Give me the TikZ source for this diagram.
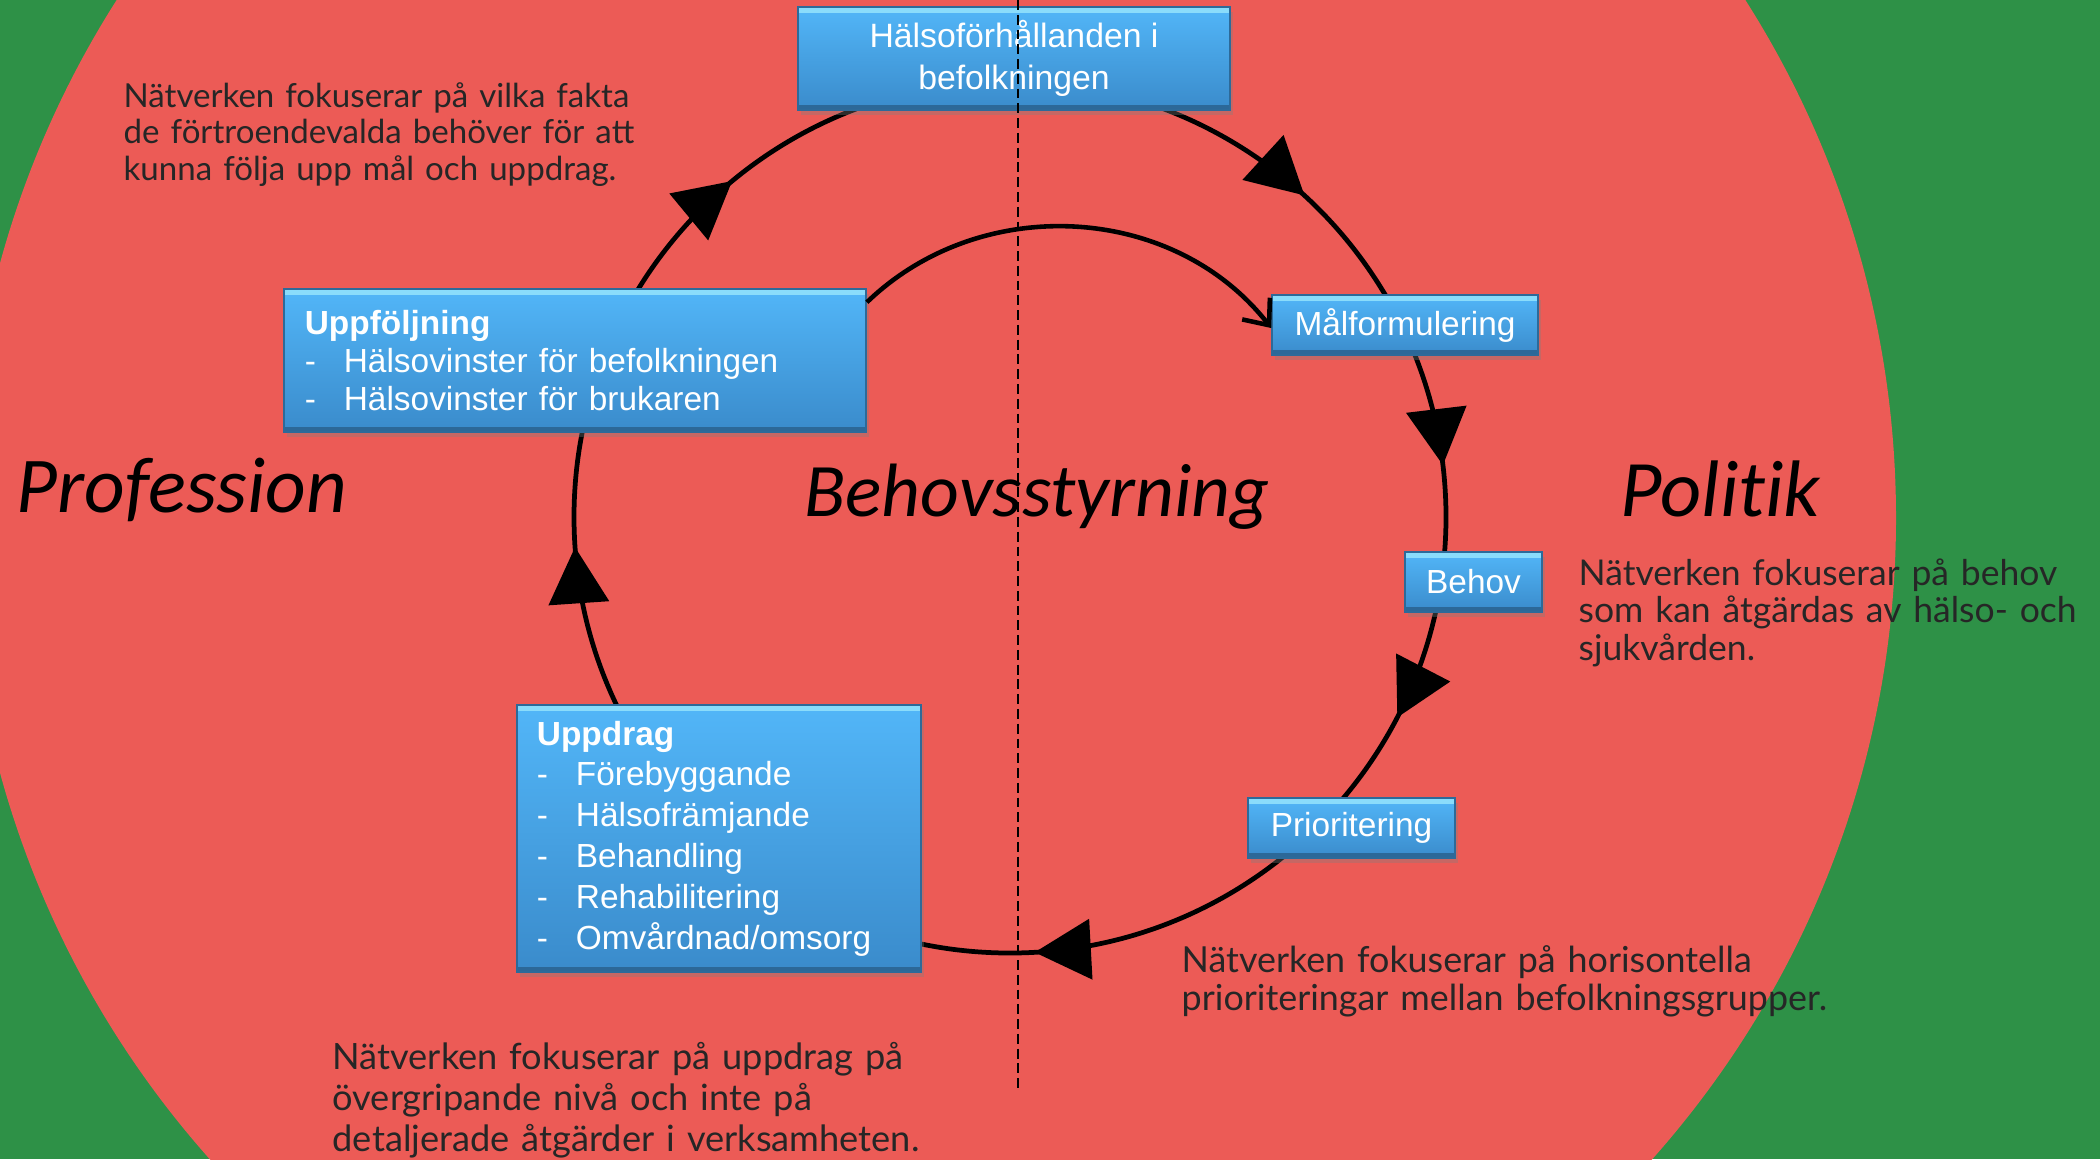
\documentclass[tikz,border=0pt]{standalone}
\usepackage{fontspec}
\setmainfont{Liberation Sans}
\newfontfamily\califont[Ligatures=NoCommon]{Carlito}
\newfontfamily\latofont{Lato}
\usetikzlibrary{arrows.meta,shadows,decorations.markings}
\definecolor{bggreen}{HTML}{2E9147}
\definecolor{bgred}{HTML}{EC5B56}
\definecolor{boxtop}{HTML}{52B6F8}
\definecolor{boxbot}{HTML}{3A8BCB}
\definecolor{boxline}{HTML}{2D6A99}
\definecolor{bevtop}{HTML}{8ADCFB}
\begin{document}
\begin{tikzpicture}[x=0.01cm,y=0.01cm,
  bluebox/.style={draw=boxline, line width=0.4pt, top color=boxtop, bottom color=boxbot,
    text=white, font=\fontsize{9.5}{11.2}\selectfont, inner sep=0pt,
    drop shadow={opacity=0.35, shadow xshift=0.03cm, shadow yshift=-0.05cm},
    path picture={
      \draw[bevtop, line width=1.6pt]
        ([yshift=-0.8pt]path picture bounding box.north west) -- ([yshift=-0.8pt]path picture bounding box.north east);
      \draw[boxbot!75!black, line width=1.4pt]
        ([yshift=0.7pt]path picture bounding box.south west) -- ([yshift=0.7pt]path picture bounding box.south east);
    }},
  note/.style={font=\latofont\fontsize{9.4}{10.4}\selectfont, text width=9cm, align=left,
    inner sep=0pt, anchor=base west, text=black!85},
  biglabel/.style={font=\califont\itshape\fontsize{21.5}{26}\selectfont, inner sep=0pt, anchor=base west},
  cyc/.style={line width=1.35pt},
  bigtip/.style={postaction={decorate}},
]
\path[use as bounding box] (0,0) rectangle (2100,-1159);
\begin{scope}
  \clip (0,0) rectangle (2100,-1159);
  \fill[bggreen] (0,0) rectangle (2100,-1159);
  \fill[bgred] (931,-518) circle[radius=965];
\end{scope}

% cycle
\draw[cyc, decoration={markings,
    mark=at position 0.118 with {\arrow{Triangle[length=16pt,width=17pt]}},
    mark=at position 0.231 with {\arrow{Triangle[length=16pt,width=17pt]}},
    mark=at position 0.326 with {\arrow{Triangle[length=16pt,width=17pt]}},
    mark=at position 0.491 with {\arrow{Triangle[length=16pt,width=17pt]}},
    mark=at position 0.739 with {\arrow{Triangle[length=16pt,width=17pt]}},
    mark=at position 0.890 with {\arrow{Triangle[length=16pt,width=17pt]}}},
  bigtip] (1010,-81) arc[start angle=90, end angle=-270, radius=436];

% boxes
\node[bluebox, minimum width=4.32cm, minimum height=1.03cm, align=center,
  font=\fontsize{9.6}{11.9}\selectfont] (halsa) at (1014,-58.5) {Hälsoförhållanden i\\befolkningen};
\node[bluebox, minimum width=5.82cm, minimum height=1.43cm, text width=5.40cm, align=left,
  font=\fontsize{9.5}{10.9}\selectfont] (uppf) at (575,-360.5)
  {\textbf{Uppföljning}\\\makebox[0.39cm][l]{-}Hälsovinster för befolkningen\\\makebox[0.39cm][l]{-}Hälsovinster för brukaren};
\node[bluebox, minimum width=4.04cm, minimum height=2.67cm, text width=3.64cm, align=left,
  font=\fontsize{9.5}{11.6}\selectfont] (uppd) at (719,-838.5)
  {\textbf{Uppdrag}\\\makebox[0.39cm][l]{-}Förebyggande\\\makebox[0.39cm][l]{-}Hälsofrämjande\\\makebox[0.39cm][l]{-}Behandling\\\makebox[0.39cm][l]{-}Rehabilitering\\\makebox[0.39cm][l]{-}Omvårdnad/omsorg};
\node[bluebox, minimum width=2.66cm, minimum height=0.60cm] (mal) at (1405,-325) {Målformulering};
\node[bluebox, minimum width=1.37cm, minimum height=0.60cm] (behov) at (1473.5,-582) {Behov};
\node[bluebox, minimum width=2.07cm, minimum height=0.60cm] (prio) at (1351.5,-828) {Prioritering};

% inner arrow
\draw[line width=1.3pt, -{Straight Barb[length=6pt,width=10pt]}]
  ([yshift=-0.14cm]uppf.north east) to[out=44,in=128] ([yshift=-0.03cm]mal.west);

% labels
\node[biglabel, font=\califont\itshape\fontsize{22.5}{26}\selectfont] (prof) at (16,-512) {Profession};
\node[biglabel] (behs) at (804,-516) {Behovsstyrning};
\node[biglabel, font=\califont\itshape\fontsize{22.8}{26}\selectfont] (pol) at (1620,-516) {Politik};

% notes
\node[note] (n1) at (123,-107) {Nätverken fokuserar på vilka fakta\\de förtroendevalda behöver för att\\kunna följa upp mål och uppdrag.};
\node[note, font=\latofont\fontsize{10.1}{10.7}\selectfont] (n2) at (1578,-585) {Nätverken fokuserar på behov\\som kan åtgärdas av hälso- och\\sjukvården.};
\node[note, font=\latofont\fontsize{10.2}{10.8}\selectfont] (n3) at (1181,-972) {Nätverken fokuserar på horisontella\\prioriteringar mellan befolkningsgrupper.};
\node[note, font=\latofont\fontsize{10.3}{11.7}\selectfont] (n4) at (332,-1069) {Nätverken fokuserar på uppdrag på\\övergripande nivå och inte på\\detaljerade åtgärder i verksamheten.};

% dashed divider
\coordinate (dtop) at (1018,0);
\coordinate (dbot) at (1018,-1092);
\draw[line width=0.6pt, dash pattern=on 2.8pt off 1.4pt] (dtop) -- (dbot);
\end{tikzpicture}
\end{document}
